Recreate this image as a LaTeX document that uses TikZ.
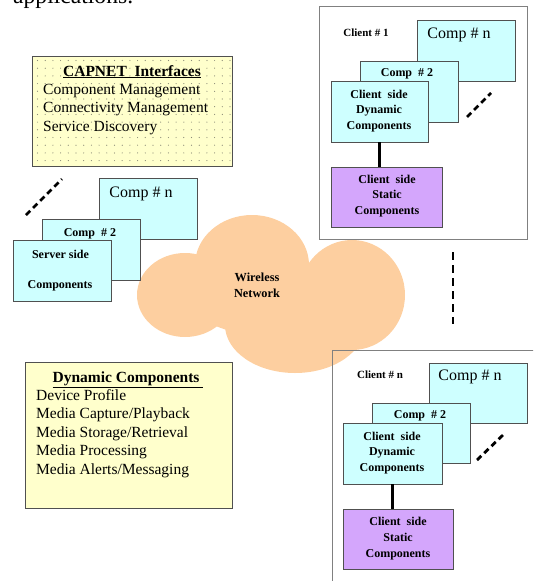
\documentclass[tikz,border=0pt]{standalone}
\usepackage{fontspec}
\setmainfont{Liberation Serif}
\definecolor{cyanfill}{RGB}{206,255,255}
\definecolor{lilac}{RGB}{212,166,252}
\definecolor{peach}{RGB}{253,207,160}
\definecolor{paleyellow}{RGB}{255,255,204}
\definecolor{boxgray}{RGB}{80,80,80}
\definecolor{outergray}{RGB}{128,128,128}
\definecolor{dotgray}{RGB}{140,140,120}
\tikzset{
  cbox/.style={draw=boxgray, fill=cyanfill, line width=0.9pt, minimum width=98pt, minimum height=61pt, inner sep=0pt},
  sbox/.style={draw=boxgray, fill=lilac, line width=0.9pt, minimum width=110pt, minimum height=60pt, inner sep=0pt},
  ybox/.style={draw=boxgray, fill=paleyellow, line width=0.8pt, inner sep=0pt},
  bsmall/.style={font=\fontsize{12}{15.8}\selectfont\bfseries, align=center, inner sep=0pt},
  bclient/.style={font=\fontsize{11}{13}\selectfont\bfseries, inner sep=0pt},
  compn/.style={font=\fontsize{16}{19}\selectfont, inner sep=0pt},
  lst/.style={font=\fontsize{15.5}{18}\selectfont, anchor=base west, inner sep=0pt},
  ttl/.style={font=\fontsize{15.5}{18}\selectfont\bfseries, anchor=base, inner sep=0pt},
  dashln/.style={line width=2.8pt, dash pattern=on 6pt off 4pt},
  vdashln/.style={line width=2.5pt, dash pattern=on 8pt off 5pt},
  thickln/.style={line width=2.6pt},
  outer/.style={draw=outergray, line width=0.8pt},
}
\begin{document}
\begin{tikzpicture}[x=1pt, y=-1pt]
\useasboundingbox (0,0) rectangle (533,581);
\clip (0,0) rectangle (533,581);

% cut-off text at top
\node[anchor=base west, inner sep=0pt, font=\fontsize{23.6}{28}\selectfont] (apptext) at (13,3) {applications.};

% cloud
\fill[peach] (185,295) ellipse [x radius=48, y radius=42];
\fill[peach] (252,265) ellipse [x radius=57, y radius=50];
\fill[peach] (352,295) ellipse [x radius=53, y radius=55];
\fill[peach] (295,325) ellipse [x radius=70, y radius=48];
\fill[peach] (270,298) ellipse [x radius=80, y radius=38];
\node[bsmall, font=\fontsize{12.3}{16}\selectfont\bfseries] (wireless) at (257,285) {Wireless\\Network};

% CAPNET interfaces box
\node[ybox, minimum width=200pt, minimum height=110pt] (capnet) at (132,111) {};
\foreach \i in {0,...,25} {
  \foreach \j in {0,...,13} {
    \fill[dotgray] (37.5+7.7*\i, 60.5+7.7*\j) circle [radius=0.6pt];
  }
}
\node[ttl] (capttl) at (132,76) {\underline{CAPNET\ \ Interfaces}};
\node[lst] (cap1) at (43,94) {Component Management};
\node[lst] (cap2) at (43,112.5) {Connectivity Management};
\node[lst] (cap3) at (43,131) {Service Discovery};

% server side
\node[cbox] (scompn) at (148,209) {};
\node[compn] (scompnt) at (141,194) {Comp \# n};
\node[cbox] (scomp2) at (91,250) {};
\node[bsmall] (scomp2t) at (90,234) {Comp \ \# 2};
\node[cbox] (sside) at (62,270.5) {};
\node[bsmall] (ssidet1) at (60.5,254) {Server side};
\node[bsmall] (ssidet2) at (60,286) {Components};
\coordinate (sd1) at (26,215);
\coordinate (sd2) at (62,179);
\draw[dashln] (sd1) -- (sd2);

% client 1
\draw[outer] (319,6) rectangle (527,239);
\node[bclient] (c1lbl) at (366,33) {Client \# 1};
\node[cbox] (c1compn) at (466,50.5) {};
\node[compn] (c1compnt) at (459,35) {Comp \# n};
\node[cbox] (c1comp2) at (409,91.5) {};
\node[bsmall] (c1comp2t) at (407,74) {Comp \ \# 2};
\node[cbox, minimum width=97pt] (c1dyn) at (379.5,111.5) {};
\node[bsmall] (c1dynt) at (379,111) {Client \ side\\Dynamic\\Components};
\node[sbox, minimum width=111pt] (c1stat) at (386.5,197) {};
\node[bsmall] (c1statt) at (387,196) {Client \ side\\Static\\Components};
\draw[thickln] (c1dyn.south) -- (c1dyn.south |- c1stat.north);
\coordinate (c1d1) at (467,117);
\coordinate (c1d2) at (491,93);
\draw[dashln] (c1d1) -- (c1d2);

% vertical dashes between clients
\coordinate (v1) at (453,252);
\coordinate (v2) at (453,324);
\draw[vdashln] (v1) -- (v2);

% client n
\draw[outer] (332,350) rectangle (560,620);
\node[bclient] (cnlbl) at (380,375) {Client \#\ n};
\node[cbox, minimum height=60pt] (cncompn) at (478,393) {};
\node[compn] (cncompnt) at (470,377) {Comp \# n};
\node[cbox, minimum height=60pt] (cncomp2) at (421,433) {};
\node[bsmall] (cncomp2t) at (420,416) {Comp \ \# 2};
\node[cbox, minimum width=99pt] (cndyn) at (392.5,453.5) {};
\node[bsmall] (cndynt) at (392,453) {Client \ side\\Dynamic\\Components};
\node[sbox] (cnstat) at (398,539) {};
\node[bsmall] (cnstatt) at (398,538.5) {Client \ side\\Static\\Components};
\draw[thickln] (cndyn.south) -- (cndyn.south |- cnstat.north);
\coordinate (cnd1) at (477,460);
\coordinate (cnd2) at (503,435);
\draw[dashln] (cnd1) -- (cnd2);

% dynamic components box
\node[ybox, minimum width=207pt, minimum height=146pt] (dynbox) at (128.5,435) {};
\node[ttl] (dynttl) at (128,382) {\underline{Dynamic Components\ }};
\node[lst] (dyn1) at (36,400) {Device Profile};
\node[lst] (dyn2) at (36,418.5) {Media Capture/Playback};
\node[lst] (dyn3) at (36,437) {Media Storage/Retrieval};
\node[lst] (dyn4) at (36,455.5) {Media Processing};
\node[lst] (dyn5) at (36,474) {Media Alerts/Messaging};
\end{tikzpicture}
\end{document}
